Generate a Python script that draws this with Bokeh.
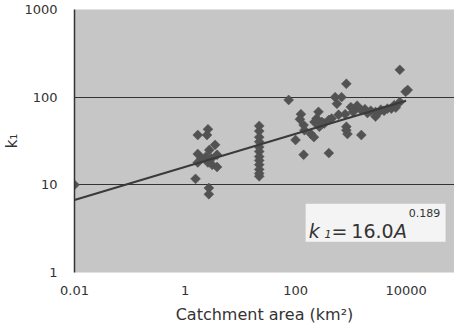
import numpy as np
from bokeh.plotting import figure
from bokeh.models import Range1d, FixedTicker, Label, BoxAnnotation
from bokeh.embed import file_html
from bokeh.resources import INLINE

# ---- data ----
area = [0.01,
        1.7, 2.5, 2.6, 1.7, 1.7, 2.0, 2.75, 3.5, 3.8, 3.1, 2.6, 3.8, 2.4, 3.0, 1.55, 2.7, 2.7,
        22, 22, 22, 22, 22, 22, 22, 22, 22, 22, 22, 22,
        75, 125, 120, 140, 260, 240, 190, 215, 100, 140, 400, 830, 520, 680, 560, 830, 870,
        1550, 790, 1200, 1800, 2800, 3500, 4600, 6100, 7700, 9800, 7700, 2800, 450, 600, 330,
        270, 1000, 1300, 2300, 3100, 5400, 10700, 830, 145, 300, 400, 1100, 1550, 2000, 4000,
        6500, 220]
k1 = [10,
      37, 37, 43, 22.5, 18, 20, 25, 28.6, 22, 16.9, 18, 16, 21, 20, 11.7, 9.2, 7.8,
      47, 41, 35, 31, 27, 24, 21, 19, 17, 15, 13.5, 12.5,
      93, 64, 56, 48, 68, 57, 38, 35, 32.5, 22, 23, 142, 100, 100, 84, 42, 38,
      37, 64, 73, 73, 68, 72, 74, 81, 88, 115, 205, 60, 57, 63, 50,
      46, 77, 80, 70, 66, 74, 121, 46, 42, 52, 55, 68, 71, 66, 70,
      76, 52]
fit_area = [0.01, 10000]
fit_k1 = [6.7, 91]

x_ticks = [0.01, 1, 100, 10000]
x_labels = ["0.01", "1", "100", "10000"]
y_ticks = [1, 10, 100, 1000]
y_labels = ["1", "10", "100", "1000"]

FONT = "DejaVu Sans"

def rx(px):  # reference pixel -> data x
    return 10 ** ((px - 71) / 55.7 - 2)

def ry(py):  # reference pixel -> data y
    return 10 ** (1 + (183 - py) / 87.7)

p = figure(width=454, height=329, x_axis_type="log", y_axis_type="log",
           x_range=Range1d(0.01, rx(454)), y_range=Range1d(1, 1000),
           output_backend="svg", toolbar_location=None,
           min_border_left=71, min_border_right=0, min_border_top=9, min_border_bottom=57)

p.background_fill_color = "#c6c6c6"
p.border_fill_color = "white"
p.outline_line_color = None

p.xaxis.ticker = FixedTicker(ticks=x_ticks, minor_ticks=[])
p.yaxis.ticker = FixedTicker(ticks=y_ticks, minor_ticks=[])
p.xaxis.major_label_overrides = dict(zip(x_ticks, x_labels))
p.yaxis.major_label_overrides = dict(zip(y_ticks, y_labels))
for ax in (p.xaxis, p.yaxis):
    ax.major_tick_out = 0
    ax.major_tick_in = 0
    ax.minor_tick_out = 0
    ax.minor_tick_in = 0
    ax.major_label_text_font = FONT
    ax.major_label_text_font_size = "13px"
    ax.major_label_text_color = "#333333"
    ax.axis_label_text_font = FONT
    ax.axis_label_text_font_style = "normal"
    ax.axis_label_text_color = "#333333"
p.xaxis.axis_line_color = None
p.yaxis.axis_line_color = "#333333"
p.yaxis.axis_line_width = 1.5
p.xaxis.major_label_standoff = 13
p.yaxis.major_label_standoff = 17
p.xaxis.axis_label = "Catchment area (km²)"
p.xaxis.axis_label_text_font_size = "16px"
p.xaxis.axis_label_standoff = 7
p.yaxis.axis_label = "k₁"
p.yaxis.axis_label_text_font_size = "15px"
p.yaxis.axis_label_standoff = 0

p.xgrid.grid_line_color = None
p.ygrid.ticker = FixedTicker(ticks=y_ticks, minor_ticks=[])
p.ygrid.grid_line_color = "#333333"
p.ygrid.grid_line_width = 1.2

p.scatter(area, k1, marker="square", angle=np.pi / 4, size=7,
          fill_color="#525252", line_color="#525252", line_width=0.5)
p.line(fit_area, fit_k1, line_color="#3a3a3a", line_width=2)

# equation box
p.add_layout(BoxAnnotation(left=rx(304), right=rx(445), bottom=ry(240), top=ry(202),
                           fill_color="#f4f4f4", fill_alpha=1, line_color=None))
base = ry(229)
parts = [
    (307, base, "k", "19px", "italic"),
    (323, ry(232), "1", "11px", "italic"),
    (330, base, "=", "19px", "normal"),
    (350, base, "16.0", "19px", "normal"),
    (393, base, "A", "19px", "italic"),
    (408, ry(211), "0.189", "11px", "normal"),
]
for px, y, txt, size, style in parts:
    p.add_layout(Label(x=rx(px), y=y, text=txt, text_font=FONT, text_font_size=size,
                       text_font_style=style, text_color="#333333",
                       text_baseline="alphabetic"))

html = file_html(p, INLINE)
open("out.html", "w").write(html)
